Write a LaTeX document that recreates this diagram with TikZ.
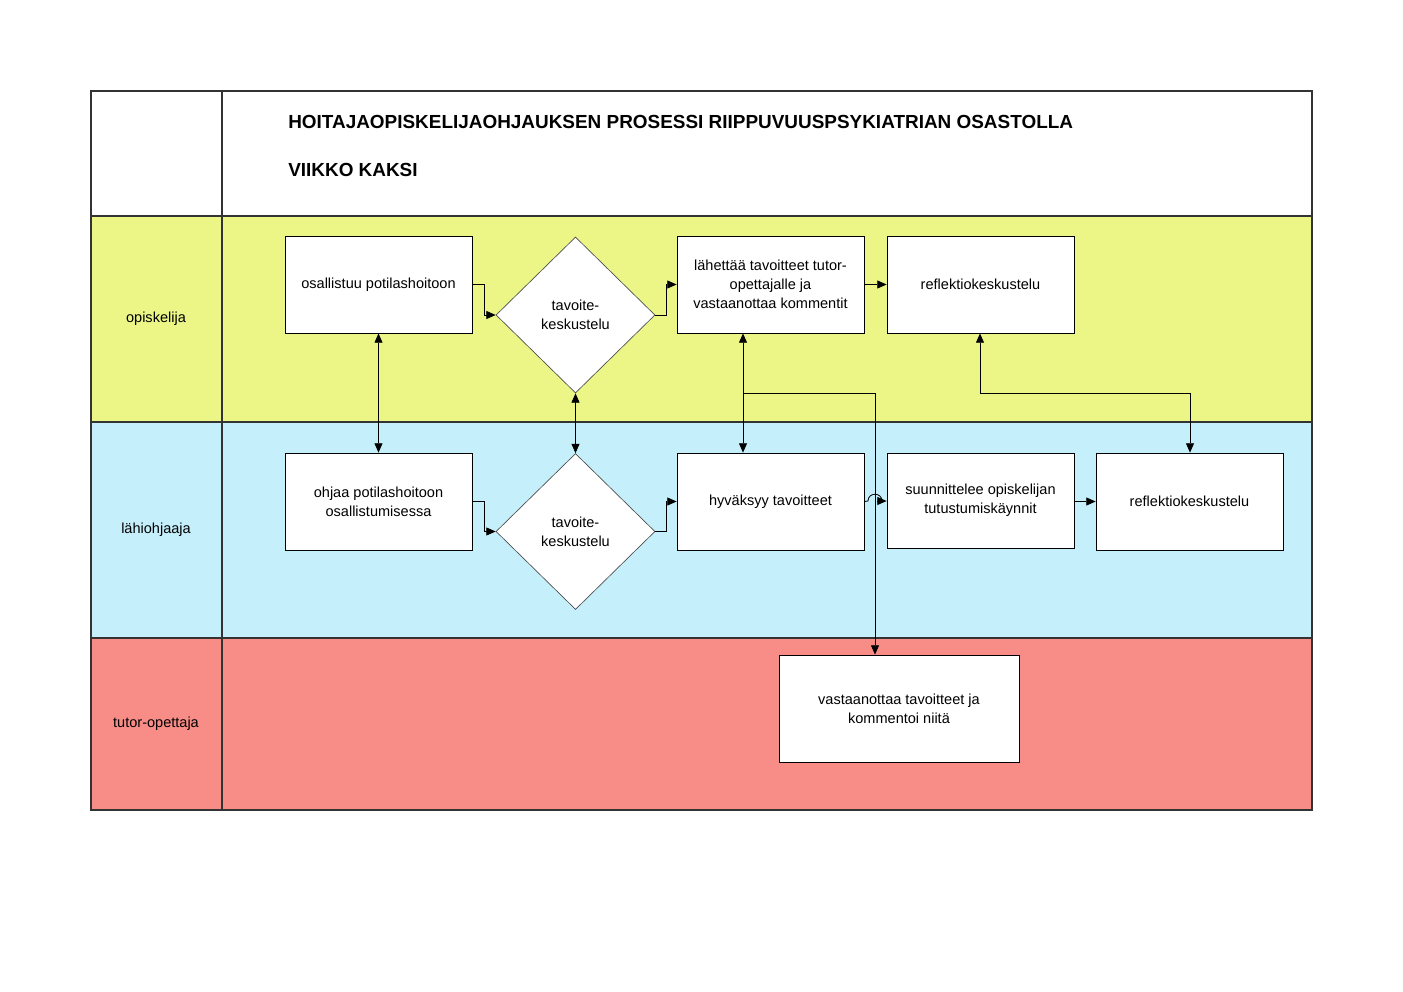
\documentclass[tikz,border=0pt]{standalone}
\usepackage{fontspec}
\setmainfont{Liberation Sans}
\usetikzlibrary{shapes.geometric,arrows.meta,calc}
\definecolor{laneY}{HTML}{EBF687}
\definecolor{laneB}{HTML}{C5EFFB}
\definecolor{laneR}{HTML}{F88C87}
\definecolor{laneline}{HTML}{333333}
\def\pu{0.75pt}
\begin{document}
\begin{tikzpicture}[x=0.75pt,y=-0.75pt,
  lane/.style={draw=laneline,line width=1.1pt},
  box/.style={draw=black,fill=white,line width=0.6pt,align=center,inner sep=2pt,
    font=\fontsize{10.9}{14.2}\selectfont},
  dia/.style={diamond,draw=black!70,fill=white,line width=0.5pt,align=center,inner sep=0pt,
    minimum width=159*\pu,minimum height=156*\pu,font=\fontsize{10.9}{14.2}\selectfont},
  lbl/.style={font=\fontsize{10.9}{14.2}\selectfont},
  ttl/.style={anchor=west,font=\fontsize{14.2}{17}\selectfont\bfseries,inner sep=0pt},
  conn/.style={line width=0.6pt,-{Triangle[length=7pt,width=6pt]}},
  dconn/.style={line width=0.6pt,{Triangle[length=7pt,width=6pt]}-{Triangle[length=7pt,width=6pt]}},
  plain/.style={line width=0.6pt}]
\useasboundingbox (0,0) rectangle (1403,992);
\fill[white] (0,0) rectangle (1403,992);
% lanes
\fill[white] (91,91) rectangle (1312,216);
\fill[laneY] (91,216) rectangle (1312,422);
\fill[laneB] (91,422) rectangle (1312,638);
\fill[laneR] (91,638) rectangle (1312,810);
\draw[lane] (91,91) rectangle (1312,810);
\draw[lane] (222,91) -- (222,810);
\draw[lane] (91,216) -- (1312,216);
\draw[lane] (91,422) -- (1312,422);
\draw[lane] (91,638) -- (1312,638);
% titles
\node[ttl] (t1) at (288,122) {HOITAJAOPISKELIJAOHJAUKSEN PROSESSI RIIPPUVUUSPSYKIATRIAN OSASTOLLA};
\node[ttl] (t2) at (288,170) {VIIKKO KAKSI};
% lane labels
\node[lbl] (l1) at (156,319) {opiskelija};
\node[lbl] (l2) at (156,530) {lähiohjaaja};
\node[lbl] (l3) at (156,724) {tutor-opettaja};
% boxes
\node[box,minimum width=187*\pu,minimum height=97*\pu] (osa) at (378.5,284.5) {osallistuu potilashoitoon};
\node[dia] (d1) at (575.5,315) {tavoite-\\keskustelu};
\node[box,minimum width=187*\pu,minimum height=97*\pu] (lah) at (770.5,284.5) {lähettää tavoitteet tutor-\\opettajalle ja\\vastaanottaa kommentit};
\node[box,minimum width=187*\pu,minimum height=97*\pu] (ref1) at (980.5,284.5) {reflektiokeskustelu};
\node[box,minimum width=187*\pu,minimum height=97*\pu] (ohj) at (378.5,501.5) {ohjaa potilashoitoon\\osallistumisessa};
\node[dia] (d2) at (575.5,531.5) {tavoite-\\keskustelu};
\node[box,minimum width=187*\pu,minimum height=97*\pu] (hyv) at (770.5,501.5) {hyväksyy tavoitteet};
\node[box,minimum width=187*\pu,minimum height=95*\pu] (suu) at (980.5,500.5) {suunnittelee opiskelijan\\tutustumiskäynnit};
\node[box,minimum width=187*\pu,minimum height=97*\pu] (ref2) at (1189.5,501.5) {reflektiokeskustelu};
\node[box,minimum width=240*\pu,minimum height=107*\pu] (vas) at (899,708.5) {vastaanottaa tavoitteet ja\\kommentoi niitä};
% helper coordinates
\coordinate (br) at (743,393);
\coordinate (cr) at (875,393);
\coordinate (rr) at (980,393);
\coordinate (rl) at (1190,393);
\coordinate (j1) at (868,501);
\coordinate (j2) at (882,501);
% connectors
\draw[conn] (osa.east) -- ++(12,0) |- (d1.west);
\draw[conn] (d1.east) -- ++(11,0) |- (lah.west);
\draw[conn] (lah.east) -- (ref1.west);
\draw[conn] (ohj.east) -- ++(12,0) |- (d2.west);
\draw[conn] (d2.east) -- ++(11,0) |- (hyv.west);
\draw[conn] (suu.east |- ref2.west) -- (ref2.west);
\draw[dconn] (osa.south) -- (ohj.north);
\draw[dconn] (d1.south) -- (d2.north);
\draw[dconn] (lah.south -| br) -- (hyv.north -| br);
\draw[plain] (br) -- (cr);
\draw[conn] (cr) -- (vas.north -| cr);
\draw[dconn] (ref1.south -| rr) -- (rr) -- (rl) -- (ref2.north -| rl);
\draw[plain] (hyv.east) -- (j1) .. controls (868,492) and (882,492) .. (j2);
\draw[conn] (j2) -- (suu.west |- j2);
\end{tikzpicture}
\end{document}
